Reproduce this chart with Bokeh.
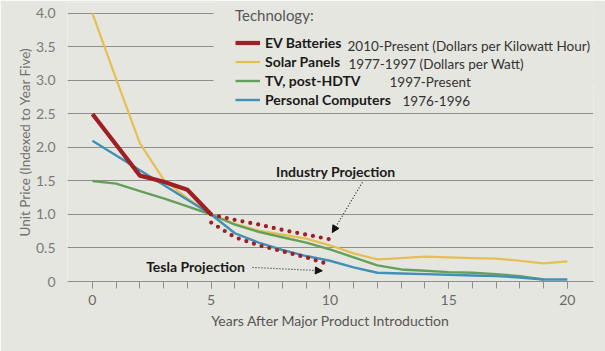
from bokeh.plotting import figure
from bokeh.models import (FixedTicker, Legend, LegendItem, Label, Arrow, NormalHead,
                          BoxAnnotation, Range1d)
from bokeh.embed import file_html
from bokeh.resources import INLINE

# ---------------- data ----------------
years = list(range(0, 21))
ev_x = [0, 1, 2, 3, 4, 5]
ev_y = [2.5, 2.04, 1.58, 1.49, 1.37, 1.0]
industry_x = [5, 6, 7, 8, 9, 10]
industry_y = [1.0, 0.92, 0.85, 0.77, 0.70, 0.63]
tesla_x = [5, 6, 7, 8, 9, 10]
tesla_y = [0.88, 0.66, 0.54, 0.45, 0.36, 0.25]
solar_x = years
solar_y = [4.0, 3.02, 2.06, 1.52, 1.24, 1.0, 0.86, 0.76, 0.70, 0.64, 0.54, 0.42, 0.33,
           0.35, 0.37, 0.36, 0.35, 0.34, 0.31, 0.27, 0.30]
tv_x = list(range(0, 20))
tv_y = [1.5, 1.46, 1.35, 1.24, 1.12, 1.0, 0.85, 0.74, 0.66, 0.58, 0.48, 0.36, 0.24,
        0.18, 0.16, 0.14, 0.13, 0.11, 0.08, 0.03]
pc_x = years
pc_y = [2.1, 1.88, 1.66, 1.44, 1.22, 1.0, 0.72, 0.58, 0.47, 0.38, 0.31, 0.21, 0.13,
        0.12, 0.11, 0.10, 0.09, 0.08, 0.06, 0.03, 0.03]

y_ticks = [0, 0.5, 1.0, 1.5, 2.0, 2.5, 3.0, 3.5, 4.0]
y_tick_labels = ["0", "0.5", "1.0", "1.5", "2.0", "2.5", "3.0", "3.5", "4.0"]
x_major = [0, 5, 10, 15, 20]
x_minor = list(range(0, 21))

series_names = ["EV Batteries", "Solar Panels", "TV, post-HDTV", "Personal Computers"]
series_suffix = ["2010-Present (Dollars per Kilowatt Hour)", "1977-1997 (Dollars per Watt)",
                 "1997-Present", "1976-1996"]

# ---------------- style ----------------
BG = "#e6e6e0"
GRID = "#8e8e8e"
RED = "#9e1f24"
YELLOW = "#e6bf52"
GREEN = "#64a05c"
BLUE = "#4190b6"
FONT = "Lato"

p = figure(width=605, height=351, output_backend="svg", toolbar_location=None,
           x_range=Range1d(-1.05, 21.1), y_range=Range1d(0, 4.164),
           min_border_left=67, min_border_right=12, min_border_top=2, min_border_bottom=70,
           background_fill_color=BG, border_fill_color=BG, outline_line_color=None)

p.xgrid.visible = False
p.ygrid.ticker = FixedTicker(ticks=y_ticks[1:])
p.ygrid.grid_line_color = GRID
p.ygrid.grid_line_width = 1.2

# y axis
p.yaxis.ticker = FixedTicker(ticks=y_ticks)
p.yaxis.major_label_overrides = {t: l for t, l in zip(y_ticks, y_tick_labels)}
p.yaxis.axis_line_color = None
p.yaxis.major_tick_line_color = None
p.yaxis.minor_tick_line_color = None
p.yaxis.major_label_standoff = 6
p.yaxis.major_label_text_font = FONT
p.yaxis.major_label_text_font_size = "14px"
p.yaxis.major_label_text_color = "#7a7a7a"
p.yaxis.axis_label = "Unit Price (Indexed to Year Five)"
p.yaxis.axis_label_text_font = FONT
p.yaxis.axis_label_text_font_style = "normal"
p.yaxis.axis_label_text_font_size = "13.5px"
p.yaxis.axis_label_text_color = "#707070"
p.yaxis.axis_label_standoff = 0

# x axis
p.xaxis.ticker = FixedTicker(ticks=x_major, minor_ticks=x_minor)
p.xaxis.axis_line_color = GRID
p.xaxis.axis_line_width = 1.2
p.xaxis.major_tick_line_color = GRID
p.xaxis.minor_tick_line_color = GRID
p.xaxis.major_tick_in = 0
p.xaxis.major_tick_out = 7
p.xaxis.minor_tick_in = 0
p.xaxis.minor_tick_out = 7
p.xaxis.major_label_standoff = 6
p.xaxis.major_label_text_font = FONT
p.xaxis.major_label_text_font_size = "14px"
p.xaxis.major_label_text_color = "#6a6a6a"
p.xaxis.axis_label = "Years After Major Product Introduction"
p.xaxis.axis_label_text_font = FONT
p.xaxis.axis_label_text_font_style = "normal"
p.xaxis.axis_label_text_font_size = "14px"
p.xaxis.axis_label_text_color = "#555555"
p.xaxis.axis_label_standoff = 4

# ---------------- lines ----------------
r_solar = p.line(solar_x, solar_y, line_color=YELLOW, line_width=2.2, line_join="round")
r_tv = p.line(tv_x, tv_y, line_color=GREEN, line_width=2.4, line_join="round")
r_pc = p.line(pc_x, pc_y, line_color=BLUE, line_width=2.4, line_join="round")
r_ev = p.line(ev_x, ev_y, line_color=RED, line_width=4.2, line_join="round")
p.line(industry_x, industry_y, line_color=RED, line_width=4.2, line_dash="0 8", line_cap="round")
p.line(tesla_x, tesla_y, line_color=RED, line_width=4.2, line_dash="0 8", line_cap="round")

# cover gridlines behind the legend
p.add_layout(BoxAnnotation(left=5.1, bottom=2.75, fill_color=BG, fill_alpha=1.0, line_alpha=0))

# ---------------- annotations ----------------
p.add_layout(Label(x=10.25, y=1.64, text="Industry Projection", text_align="center",
                   text_baseline="middle", text_font=FONT, text_font_style="bold",
                   text_font_size="14px", text_color="#1a1a1a"))
p.add_layout(Label(x=4.34, y=0.22, text="Tesla Projection", text_align="center",
                   text_baseline="middle", text_font=FONT, text_font_style="bold",
                   text_font_size="14px", text_color="#1a1a1a"))
p.add_layout(Arrow(end=NormalHead(size=7, fill_color="#111111", line_color="#111111", line_width=1),
                   x_start=11.37, y_start=1.48, x_end=10.1, y_end=0.73,
                   line_color="#222222", line_width=1.2, line_dash="1 2"))
p.add_layout(Arrow(end=NormalHead(size=7, fill_color="#111111", line_color="#111111", line_width=1),
                   x_start=6.74, y_start=0.21, x_end=9.68, y_end=0.16,
                   line_color="#222222", line_width=1.2, line_dash="1 2"))

# ---------------- legend ----------------
renderers = [r_ev, r_solar, r_tv, r_pc]
legend = Legend(items=[LegendItem(label=n, renderers=[r]) for n, r in zip(series_names, renderers)],
                title="Technology:", location=(168, 173))
legend.title_text_font = FONT
legend.title_text_font_style = "normal"
legend.title_text_font_size = "15px"
legend.title_text_color = "#555555"
legend.title_standoff = 10
legend.label_text_font = FONT
legend.label_text_font_style = "bold"
legend.label_text_font_size = "14px"
legend.label_text_color = "#1a1a1a"
legend.glyph_width = 25
legend.glyph_height = 15
legend.label_height = 15
legend.label_standoff = 5
legend.spacing = 2
legend.padding = 0
legend.margin = 0
legend.background_fill_alpha = 0
legend.border_line_alpha = 0
p.add_layout(legend)

suffix_x = [280, 281, 322, 335]
suffix_y = [236, 218, 200, 181]
for sx, sy, t in zip(suffix_x, suffix_y, series_suffix):
    p.add_layout(Label(x=sx, y=sy, x_units="screen", y_units="screen", text=t,
                       text_baseline="middle", text_font=FONT, text_font_size="13.5px",
                       text_color="#333333"))

open("out.html", "w").write(file_html(p, INLINE))
